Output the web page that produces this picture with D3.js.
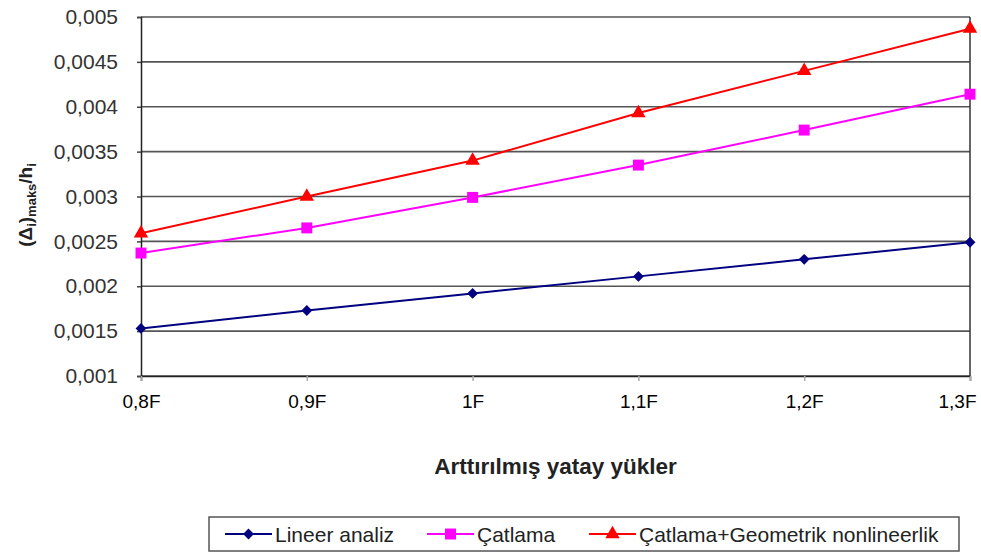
<!DOCTYPE html>
<html>
<head>
<meta charset="utf-8">
<script src="https://cdn.jsdelivr.net/npm/d3@7"></script>
<style>
  html, body { margin: 0; padding: 0; background: #fff; }
  svg { display: block; font-family: "Liberation Sans", Arial, sans-serif; }
</style>
</head>
<body>
<svg id="chart" width="981" height="554"></svg>
<script>
// ---- data ----
const categories = ["0,8F", "0,9F", "1F", "1,1F", "1,2F", "1,3F"];
const lineerAnaliz = [0.00153, 0.00173, 0.00192, 0.00211, 0.00230, 0.00249];
const catlama = [0.00237, 0.00265, 0.00299, 0.00335, 0.00374, 0.00414];
const catlamaGeo = [0.00259, 0.00300, 0.00340, 0.00393, 0.00440, 0.00487];
const seriesNames = ["Lineer analiz", "Çatlama", "Çatlama+Geometrik nonlineerlik"];
const yTickValues = [0.001, 0.0015, 0.002, 0.0025, 0.003, 0.0035, 0.004, 0.0045, 0.005];
const xTitle = "Arttırılmış yatay yükler";

(function () {
const series = [
  { name: seriesNames[0], values: lineerAnaliz, color: "#000080", marker: "diamond" },
  { name: seriesNames[1], values: catlama, color: "#FF00FF", marker: "square" },
  { name: seriesNames[2], values: catlamaGeo, color: "#FF0000", marker: "triangle" }
];

const svg = d3.select("#chart");
const pLeft = 141, pRight = 970, pTop = 17, pBottom = 376;

const x = d3.scalePoint().domain(categories).range([pLeft, pRight]).padding(0);
const y = d3.scaleLinear().domain([0.001, 0.005]).range([pBottom, pTop]);

const trLocale = d3.formatLocale({ decimal: ",", thousands: ".", grouping: [3], currency: ["", ""] });
const fmt = trLocale.format("~g");

// gridlines
svg.append("g")
  .selectAll("line")
  .data(yTickValues)
  .join("line")
  .attr("x1", pLeft).attr("x2", pRight)
  .attr("y1", d => y(d)).attr("y2", d => y(d))
  .attr("stroke", "#555")
  .attr("stroke-width", 1.6);

// right border
svg.append("line")
  .attr("x1", pRight).attr("x2", pRight).attr("y1", pTop).attr("y2", pBottom)
  .attr("stroke", "#333").attr("stroke-width", 1.5);

// y axis
const yAxis = svg.append("g")
  .attr("transform", `translate(${pLeft},0)`)
  .call(d3.axisLeft(y).tickValues(yTickValues).tickFormat(fmt).tickSize(4).tickPadding(19));
yAxis.select(".domain").attr("stroke", "#222").attr("stroke-width", 1.5);
yAxis.selectAll(".tick line").attr("stroke", "#444").attr("stroke-width", 1.5);
yAxis.selectAll(".tick text")
  .attr("font-size", 21).attr("fill", "#333")
  .attr("font-family", "'Liberation Sans', Arial, sans-serif");

// x axis
const xAxis = svg.append("g")
  .attr("transform", `translate(0,${pBottom})`)
  .call(d3.axisBottom(x).tickSize(5).tickPadding(14));
xAxis.select(".domain").attr("stroke", "#222").attr("stroke-width", 1.5);
xAxis.selectAll(".tick line").attr("stroke", "#aaa").attr("stroke-width", 1.5);
xAxis.selectAll(".tick text")
  .attr("font-size", 19).attr("fill", "#000")
  .attr("font-family", "'Liberation Sans', Arial, sans-serif");
// keep the last label inside the picture, as the reference does
xAxis.selectAll(".tick text")
  .filter(d => d === categories[categories.length - 1])
  .attr("text-anchor", "end")
  .attr("dx", 6);

// x title
svg.append("text")
  .attr("x", (pLeft + pRight) / 2)
  .attr("y", 474)
  .attr("text-anchor", "middle")
  .attr("font-size", 22.5)
  .attr("font-weight", "bold")
  .attr("fill", "#222")
  .text(xTitle);

// y title
const yt = svg.append("text")
  .attr("transform", "translate(32,205) rotate(-90)")
  .attr("text-anchor", "middle")
  .attr("font-weight", "bold")
  .attr("fill", "#222")
  .attr("font-size", 19);
yt.append("tspan").text("(Δ");
yt.append("tspan").attr("font-size", 13).attr("dy", 4).text("i");
yt.append("tspan").attr("dy", -4).text(")");
yt.append("tspan").attr("font-size", 13).attr("dy", 4).text("maks");
yt.append("tspan").attr("dy", -4).text("/h");
yt.append("tspan").attr("font-size", 13).attr("dy", 4).text("i");

// markers
function drawMarker(sel, type, color) {
  if (type === "diamond") {
    sel.append("path").attr("d", d3.symbol().type(d3.symbolDiamond2).size(75)()).attr("fill", color);
  } else if (type === "square") {
    sel.append("path").attr("d", d3.symbol().type(d3.symbolSquare).size(120)()).attr("fill", color);
  } else {
    sel.append("path").attr("d", d3.symbol().type(d3.symbolTriangle).size(90)()).attr("fill", color);
  }
}

const line = d3.line().x((d, i) => x(categories[i])).y(d => y(d));

series.forEach(s => {
  svg.append("path")
    .attr("d", line(s.values))
    .attr("fill", "none")
    .attr("stroke", s.color)
    .attr("stroke-width", 2);
  s.values.forEach((v, i) => {
    const g = svg.append("g").attr("transform", `translate(${x(categories[i])},${y(v)})`);
    drawMarker(g, s.marker, s.color);
  });
});

// legend
const legend = svg.append("g");
legend.append("rect")
  .attr("x", 209).attr("y", 517).attr("width", 750).attr("height", 34)
  .attr("fill", "#fff").attr("stroke", "#555").attr("stroke-width", 1.5);

const legendX = [225, 427, 589];
series.forEach((s, i) => {
  const g = legend.append("g").attr("transform", `translate(${legendX[i]},534)`);
  g.append("line").attr("x1", 0).attr("x2", 47).attr("y1", 0).attr("y2", 0)
    .attr("stroke", s.color).attr("stroke-width", 2);
  const m = g.append("g").attr("transform", "translate(23.5,0)");
  drawMarker(m, s.marker, s.color);
  g.append("text")
    .attr("x", 50).attr("y", 8)
    .attr("font-size", 21)
    .attr("fill", "#222")
    .text(s.name);
});
})();
</script>
</body>
</html>
